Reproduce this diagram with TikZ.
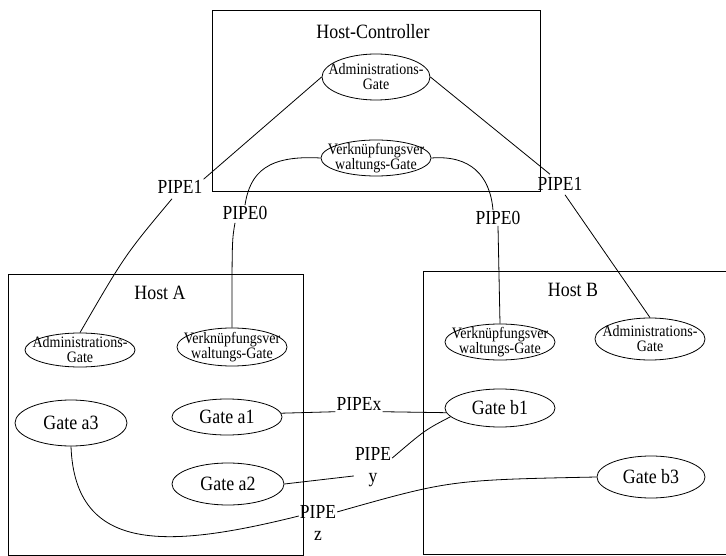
\documentclass[tikz,border=0pt]{standalone}
\usepackage{fontspec}
\setmainfont{Liberation Serif}[FakeStretch=0.88]
\usetikzlibrary{shapes.geometric,calc}
\begin{document}
\begin{tikzpicture}[x=1pt,y=-1pt,
  hostbox/.style={draw, line width=0.8pt, inner sep=0pt, anchor=north west},
  gate/.style={draw, ellipse, line width=0.8pt, inner sep=0pt},
  small/.style={font=\fontsize{15.9}{15}\selectfont, align=center, inner sep=0pt},
  big/.style={font=\fontsize{20.3}{20}\selectfont, inner sep=0pt},
  pipe/.style={font=\fontsize{19.9}{22}\selectfont, align=center, inner sep=1pt},
  conn/.style={line width=0.8pt}]
\useasboundingbox[fill=white] (0,0) rectangle (726,556);

% host boxes
\node[hostbox, minimum width=328pt, minimum height=181pt] (hc) at (212,10) {};
\node[hostbox, minimum width=295pt, minimum height=281pt] (ha) at (8,274) {};
\node[hostbox, minimum width=310pt, minimum height=283pt] (hb) at (423,271) {};
\node[big] (hcT) at (373,32) {Host-Controller};
\node[big] (haT) at (160,293) {Host A};
\node[big] (hbT) at (573,290) {Host B};

% gates
\node[gate, minimum width=108pt, minimum height=46pt] (hca) at (376,77) {};
\node[small] (hcaT) at (hca) {Administrations-\\Gate};
\node[gate, minimum width=110pt, minimum height=36pt] (hcv) at (376,158) {};
\node[small] (hcvT) at (hcv) {Verknüpfungsver\\waltungs-Gate};

\node[gate, minimum width=110pt, minimum height=34pt] (aadm) at (80,350) {};
\node[small] (aadmT) at (aadm) {Administrations-\\Gate};
\node[gate, minimum width=110pt, minimum height=38pt] (avk) at (232,347) {};
\node[small] (avkT) at (avk) {Verknüpfungsver\\waltungs-Gate};
\node[gate, minimum width=110pt, minimum height=36pt] (a1) at (227,417) {};
\node[big] (a1T) at (a1) {Gate a1};
\node[gate, minimum width=112pt, minimum height=46pt] (a3) at (71,423) {};
\node[big] (a3T) at (a3) {Gate a3};
\node[gate, minimum width=112pt, minimum height=42pt] (a2) at (228,484) {};
\node[big] (a2T) at (a2) {Gate a2};

\node[gate, minimum width=110pt, minimum height=36pt] (bvk) at (500,342) {};
\node[small] (bvkT) at (bvk) {Verknüpfungsver\\waltungs-Gate};
\node[gate, minimum width=110pt, minimum height=42pt] (badm) at (650,339) {};
\node[small] (badmT) at (badm) {Administrations-\\Gate};
\node[gate, minimum width=110pt, minimum height=38pt] (b1) at (500,408) {};
\node[big] (b1T) at (b1) {Gate b1};
\node[gate, minimum width=108pt, minimum height=42pt] (b3) at (651,477) {};
\node[big] (b3T) at (b3) {Gate b3};

% pipe labels
\node[pipe] (p1L) at (180,187) {PIPE1};
\node[pipe] (p1R) at (560,184) {PIPE1};
\node[pipe] (p0L) at (245,213) {PIPE0};
\node[pipe] (p0R) at (498,218) {PIPE0};
\node[pipe] (pX) at (359,404) {PIPEx};
\node[pipe] (pY) at (373,467) {PIPE\\y};
\node[pipe] (pZ) at (318,523) {PIPE\\z};

% connectors
\draw[conn] (hca.west) -- (p1L.north east);
\draw[conn] ($(p1L.south)+(-8,4)$) .. controls (125,255) .. (aadm.north);
\draw[conn] (hca.east) -- ($(p1R.north)+(-10,-2)$);
\draw[conn] ($(p1R.south)+(5,3)$) -- (badm.north);

\draw[conn] (hcv.west) .. controls (268,155) and (250,172) .. (p0L.north);
\draw[conn] ($(p0L.south)+(-10,2)$) .. controls (232,240) .. (avk.north);
\draw[conn] (hcv.east) .. controls (470,155) and (490,175) .. ($(p0R.north)+(-5,0)$);
\draw[conn] (p0R.south) -- (bvk.north);

\draw[conn] (a1.4) -- (pX.south west);
\draw[conn] (pX.south east) -- (b1.185);
\draw[conn] (b1.190) .. controls (425,430) .. (pY.25);
\draw[conn] (a2.east) -- (pY.205);
\draw[conn] (a3.south) .. controls (75,555) and (170,548) .. (pZ.160);
\draw[conn] (pZ.30) .. controls (450,480) .. (b3.west);
\end{tikzpicture}
\end{document}
